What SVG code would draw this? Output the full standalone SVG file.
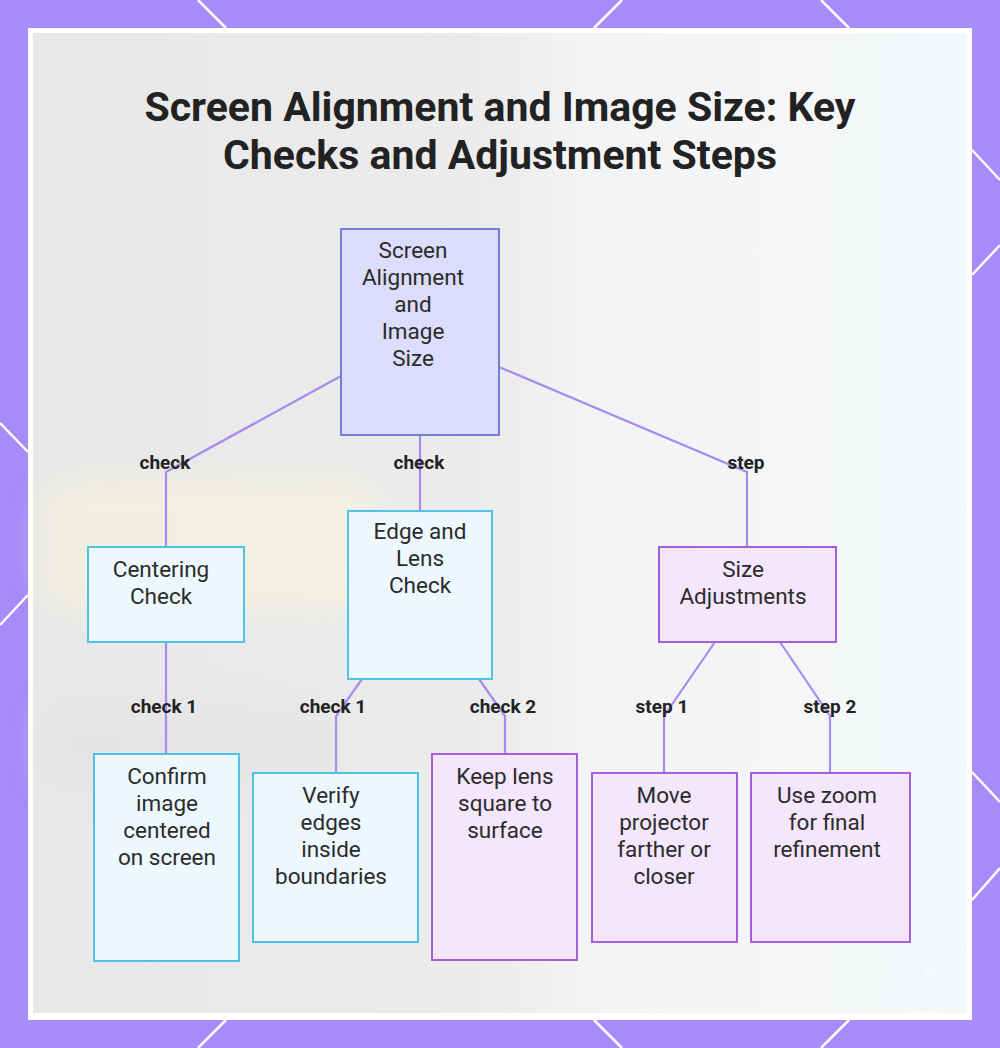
<svg xmlns="http://www.w3.org/2000/svg" width="1000" height="1048" viewBox="0 0 1000 1048">
  <defs>
    <linearGradient id="bg" x1="0" y1="0" x2="1" y2="0">
      <stop offset="0" stop-color="#e8e8e8"/>
      <stop offset="0.5" stop-color="#ececec"/>
      <stop offset="0.58" stop-color="#f2f3f4"/>
      <stop offset="1" stop-color="#f5f8fa"/>
    </linearGradient>
    <filter id="blur" x="-20%" y="-20%" width="140%" height="140%">
      <feGaussianBlur stdDeviation="14"/>
    </filter>
    <style>
      .deco { stroke: #ffffff; stroke-width: 2.5; fill: none; }
      .conn { stroke: #a78bf0; stroke-width: 2.2; fill: none; }
      .lbl { font-family: Roboto, "Liberation Sans", sans-serif; font-weight: 700; font-size: 19px; fill: #222222; text-anchor: middle; }
      .txt { font-family: Roboto, "Liberation Sans", sans-serif; font-size: 22.5px; fill: #2b2b2b; text-anchor: middle; }
      .title { font-family: Roboto, "Liberation Sans", sans-serif; font-weight: 700; font-size: 41px; fill: #222222; text-anchor: middle; }
      .root { fill: #dcdcfc; stroke: #6f80d8; stroke-width: 2; }
      .cyan { fill: #edf8fe; stroke: #4ec3e6; stroke-width: 2; }
      .purp { fill: #f3e6fd; stroke: #a65fd8; stroke-width: 2; }
    </style>
  </defs>

  <!-- purple border -->
  <rect x="0" y="0" width="1000" height="1048" fill="#a78bfa"/>
  <g class="deco">
    <line x1="198" y1="0" x2="226" y2="28"/>
    <line x1="622" y1="0" x2="594" y2="28"/>
    <line x1="821" y1="0" x2="849" y2="28"/>
    <line x1="226" y1="1020" x2="198" y2="1048"/>
    <line x1="594" y1="1020" x2="622" y2="1048"/>
    <line x1="849" y1="1020" x2="821" y2="1048"/>
    <line x1="0" y1="423" x2="28" y2="452"/>
    <line x1="28" y1="595" x2="0" y2="625"/>
    <line x1="972" y1="150" x2="1000" y2="180"/>
    <line x1="1000" y1="245" x2="972" y2="275"/>
    <line x1="972" y1="772" x2="1000" y2="802"/>
    <line x1="1000" y1="868" x2="972" y2="900"/>
  </g>

  <!-- white frame and photo background -->
  <rect x="28" y="28" width="944" height="992" fill="#ffffff"/>
  <rect x="33" y="33" width="934" height="980" fill="url(#bg)"/>
  <g filter="url(#blur)" opacity="0.5">
    <rect x="40" y="480" width="340" height="130" rx="40" fill="#fbf6d8"/>
    <rect x="40" y="700" width="300" height="90" rx="30" fill="#e2e2e2"/>
  </g>

  <!-- watermark -->
  <g opacity="0.8" fill="none" stroke="#ffffff" stroke-width="1" stroke-dasharray="2 1.5">
    <circle cx="925" cy="970" r="43"/>
    <rect x="897" y="964" width="30" height="16" rx="5"/>
    <circle cx="909" cy="972" r="4"/>
    <polygon points="927,972 954,961 954,979"/>
  </g>

  <!-- title -->
  <text class="title" x="500" y="121">Screen Alignment and Image Size: Key</text>
  <text class="title" x="500" y="169">Checks and Adjustment Steps</text>

  <!-- connectors -->
  <g id="connectors">
    <polyline class="conn" points="341,376 166,472 166,547"/>
    <polyline class="conn" points="420,435 420,511"/>
    <polyline class="conn" points="499,367 747,472 747,547"/>
    <polyline class="conn" points="166,642 166,754"/>
    <polyline class="conn" points="362,679 336,716 336,773"/>
    <polyline class="conn" points="479,679 505,716 505,754"/>
    <polyline class="conn" points="715,642 664,716 664,773"/>
    <polyline class="conn" points="780,642 830,716 830,773"/>
    <text class="lbl" x="165" y="469">check</text>
    <text class="lbl" x="419" y="469">check</text>
    <text class="lbl" x="746" y="469">step</text>
    <text class="lbl" x="164" y="713">check 1</text>
    <text class="lbl" x="333" y="713">check 1</text>
    <text class="lbl" x="503" y="713">check 2</text>
    <text class="lbl" x="662" y="713">step 1</text>
    <text class="lbl" x="830" y="713">step 2</text>
  </g>

  <!-- nodes -->
  <g id="root">
    <rect class="root" x="341" y="229" width="158" height="206"/>
    <text class="txt" x="413" y="258">Screen</text>
    <text class="txt" x="413" y="285">Alignment</text>
    <text class="txt" x="413" y="312">and</text>
    <text class="txt" x="413" y="339">Image</text>
    <text class="txt" x="413" y="366">Size</text>
  </g>
  <g id="centering">
    <rect class="cyan" x="88" y="547" width="156" height="95"/>
    <text class="txt" x="161" y="577">Centering</text>
    <text class="txt" x="161" y="604">Check</text>
  </g>
  <g id="edge">
    <rect class="cyan" x="348" y="511" width="144" height="168"/>
    <text class="txt" x="420" y="539">Edge and</text>
    <text class="txt" x="420" y="566">Lens</text>
    <text class="txt" x="420" y="593">Check</text>
  </g>
  <g id="size">
    <rect class="purp" x="659" y="547" width="177" height="95"/>
    <text class="txt" x="743" y="577">Size</text>
    <text class="txt" x="743" y="604">Adjustments</text>
  </g>
  <g id="confirm">
    <rect class="cyan" x="94" y="754" width="145" height="207"/>
    <text class="txt" x="167" y="784">Confirm</text>
    <text class="txt" x="167" y="811">image</text>
    <text class="txt" x="167" y="838">centered</text>
    <text class="txt" x="167" y="865">on screen</text>
  </g>
  <g id="verify">
    <rect class="cyan" x="253" y="773" width="165" height="169"/>
    <text class="txt" x="331" y="803">Verify</text>
    <text class="txt" x="331" y="830">edges</text>
    <text class="txt" x="331" y="857">inside</text>
    <text class="txt" x="331" y="884">boundaries</text>
  </g>
  <g id="keep">
    <rect class="purp" x="432" y="754" width="145" height="206"/>
    <text class="txt" x="505" y="784">Keep lens</text>
    <text class="txt" x="505" y="811">square to</text>
    <text class="txt" x="505" y="838">surface</text>
  </g>
  <g id="move">
    <rect class="purp" x="592" y="773" width="145" height="169"/>
    <text class="txt" x="664" y="803">Move</text>
    <text class="txt" x="664" y="830">projector</text>
    <text class="txt" x="664" y="857">farther or</text>
    <text class="txt" x="664" y="884">closer</text>
  </g>
  <g id="zoom">
    <rect class="purp" x="751" y="773" width="159" height="169"/>
    <text class="txt" x="827" y="803">Use zoom</text>
    <text class="txt" x="827" y="830">for final</text>
    <text class="txt" x="827" y="857">refinement</text>
  </g>
</svg>
